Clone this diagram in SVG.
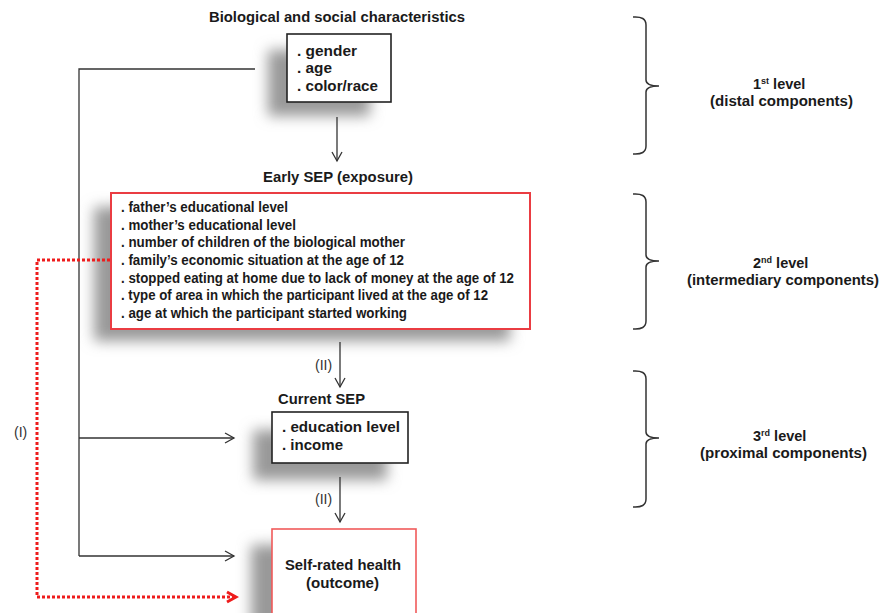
<svg xmlns="http://www.w3.org/2000/svg" width="894" height="613" viewBox="0 0 894 613">
<defs>
<style>
text{font-family:"Liberation Sans",Arial,sans-serif;fill:#1a1a1a}
.h{font-size:14.5px;font-weight:bold}
.t{font-size:15px;font-weight:bold}
.s{font-size:14px;font-weight:bold}
.n{font-size:14px;fill:#333}
.ln{stroke:#333;stroke-width:1.3;fill:none}
.box{fill:#fff;stroke:#222;stroke-width:1.6}
.rbox{fill:#fff;stroke:#ea3c42;stroke-width:2}
.rbox2{fill:#fff;stroke:#f05a5a;stroke-width:1.6}
.shd{fill:#999;filter:url(#blur)}
.brace{stroke:#333;stroke-width:1.5;fill:none}
.dot{stroke:#ee1c1c;stroke-width:3;stroke-dasharray:3 2;fill:none}
.sup{font-size:9px}
</style>
<filter id="blur" x="-30%" y="-30%" width="160%" height="160%"><feGaussianBlur stdDeviation="7"/></filter>
<marker id="ar" markerWidth="12" markerHeight="12" refX="10" refY="6" orient="auto" markerUnits="userSpaceOnUse">
<path d="M1,1 L10,6 L1,11" fill="none" stroke="#333" stroke-width="1.3"/>
</marker>
<marker id="arr" markerWidth="14" markerHeight="14" refX="11" refY="7" orient="auto" markerUnits="userSpaceOnUse">
<path d="M2,2 L11,7 L2,12" fill="none" stroke="#ee1c1c" stroke-width="3"/>
</marker>
</defs>
<rect width="894" height="613" fill="#fff"/>

<!-- shadows -->
<rect class="shd" x="268" y="50" width="102" height="66"/>
<rect class="shd" x="94" y="207" width="416" height="134"/>
<rect class="shd" x="253" y="430" width="134" height="50"/>
<rect class="shd" x="251" y="545" width="142" height="90"/>

<g id="connectors">
<polyline class="ln" points="255,69 79,69 79,556"/>
<line class="ln" x1="79" y1="438" x2="234" y2="438" marker-end="url(#ar)"/>
<line class="ln" x1="79" y1="556" x2="234" y2="556" marker-end="url(#ar)"/>
<line class="ln" x1="337" y1="117" x2="337" y2="161" marker-end="url(#ar)"/>
<line class="ln" x1="340" y1="342" x2="340" y2="387" marker-end="url(#ar)"/>
<line class="ln" x1="340" y1="477" x2="340" y2="522" marker-end="url(#ar)"/>
<polyline class="dot" points="110,260 37,260 37,597 236,597" marker-end="url(#arr)"/>
<text class="n" x="14" y="437">(I)</text>
<text class="n" x="315" y="370">(II)</text>
<text class="n" x="315" y="504">(II)</text>
</g>

<g id="node-bio">
<text class="h" x="209" y="22" textLength="256" lengthAdjust="spacingAndGlyphs">Biological and social characteristics</text>
<rect class="box" x="287" y="34" width="104" height="68"/>
<text class="t" x="297" y="56" textLength="60" lengthAdjust="spacingAndGlyphs">. gender</text>
<text class="t" x="297" y="73" textLength="35" lengthAdjust="spacingAndGlyphs">. age</text>
<text class="t" x="297" y="91" textLength="81" lengthAdjust="spacingAndGlyphs">. color/race</text>
</g>

<g id="node-early">
<text class="h" x="263" y="182" textLength="150" lengthAdjust="spacingAndGlyphs">Early SEP (exposure)</text>
<rect class="rbox" x="111" y="193" width="419" height="136"/>
<text class="s" x="121" y="212" textLength="167" lengthAdjust="spacingAndGlyphs">. father’s educational level</text>
<text class="s" x="121" y="229.7" textLength="175" lengthAdjust="spacingAndGlyphs">. mother’s educational level</text>
<text class="s" x="121" y="247.3" textLength="284" lengthAdjust="spacingAndGlyphs">. number of children of the biological mother</text>
<text class="s" x="121" y="265" textLength="283" lengthAdjust="spacingAndGlyphs">. family’s economic situation at the age of 12</text>
<text class="s" x="121" y="282.7" textLength="393" lengthAdjust="spacingAndGlyphs">. stopped eating at home due to lack of money at the age of 12</text>
<text class="s" x="121" y="300.3" textLength="367" lengthAdjust="spacingAndGlyphs">. type of area in which the participant lived at the age of 12</text>
<text class="s" x="121" y="318" textLength="286" lengthAdjust="spacingAndGlyphs">. age at which the participant started working</text>
</g>

<g id="node-current">
<text class="h" x="278" y="404" textLength="87" lengthAdjust="spacingAndGlyphs">Current SEP</text>
<rect class="box" x="272" y="412" width="136" height="51"/>
<text class="t" x="282" y="432" textLength="118" lengthAdjust="spacingAndGlyphs">. education level</text>
<text class="t" x="282" y="450" textLength="61" lengthAdjust="spacingAndGlyphs">. income</text>
</g>

<g id="node-health">
<rect class="rbox2" x="272" y="529" width="144" height="100"/>
<text class="h" x="285" y="570" textLength="116" lengthAdjust="spacingAndGlyphs">Self-rated health</text>
<text class="h" x="306" y="588" textLength="73" lengthAdjust="spacingAndGlyphs">(outcome)</text>
</g>

<g id="level1">
<path class="brace" d="M633,17 Q646,16 646,25 L646,80 Q646,86 659,86 Q646,86 646,92 L646,146 Q646,155 633,154"/>
<text class="h" x="753" y="89">1<tspan class="sup" dy="-5">st</tspan><tspan dy="5"> level</tspan></text>
<text class="h" x="710" y="106" textLength="143" lengthAdjust="spacingAndGlyphs">(distal components)</text>
</g>

<g id="level2">
<path class="brace" d="M633,194 Q646,193 646,202 L646,255 Q646,261 659,261 Q646,261 646,267 L646,321 Q646,330 633,329"/>
<text class="h" x="753" y="268">2<tspan class="sup" dy="-5">nd</tspan><tspan dy="5"> level</tspan></text>
<text class="h" x="687" y="285" textLength="192" lengthAdjust="spacingAndGlyphs">(intermediary components)</text>
</g>

<g id="level3">
<path class="brace" d="M633,371 Q646,370 646,379 L646,432 Q646,438 659,438 Q646,438 646,444 L646,499 Q646,508 633,507"/>
<text class="h" x="753" y="441">3<tspan class="sup" dy="-5">rd</tspan><tspan dy="5"> level</tspan></text>
<text class="h" x="700" y="458" textLength="167" lengthAdjust="spacingAndGlyphs">(proximal components)</text>
</g>
</svg>
